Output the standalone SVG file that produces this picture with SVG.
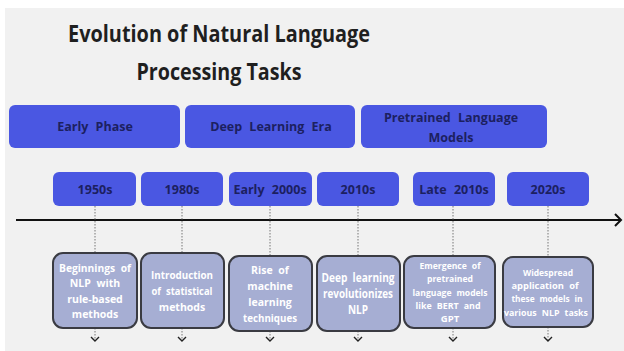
<svg xmlns="http://www.w3.org/2000/svg" width="624" height="351" viewBox="0 0 624 351">
  <defs>
    <style>
      .title { font-family: "Open Sans", "Noto Sans", sans-serif; font-weight: 700; font-size: 24px; fill: #1f1f1f; text-anchor: middle; }
      .phase rect { fill: #4a57e2; }
      .phase text, .year text { font-family: "Open Sans", "Noto Sans", sans-serif; font-weight: 700; font-size: 12.5px; fill: #1c2060; text-anchor: middle; word-spacing: 4px; }
      .year rect { fill: #4a57e2; }
      .desc rect { fill: #a6aed3; stroke: #3a3b42; stroke-width: 2; }
      .desc text { font-family: "Open Sans", "Noto Sans", sans-serif; font-weight: 700; font-size: 10.5px; fill: #ffffff; text-anchor: middle; word-spacing: 3px; }
      .dot { stroke: #777; stroke-width: 1; stroke-dasharray: 1.5 1.5; fill: none; }
      .chev { stroke: #222; stroke-width: 1.4; fill: none; }
      .axis { stroke: #111; stroke-width: 2; fill: none; }
    </style>
  </defs>

  <!-- canvas -->
  <rect x="0" y="0" width="624" height="351" fill="#ffffff"/>
  <rect x="5" y="8" width="619" height="343" fill="#f1f1f1"/>

  <!-- heading -->
  <g id="title">
    <text class="title" x="219" y="42" textLength="302" lengthAdjust="spacingAndGlyphs">Evolution of Natural Language</text>
    <text class="title" x="219" y="80" textLength="165" lengthAdjust="spacingAndGlyphs">Processing Tasks</text>
  </g>

  <!-- era bands -->
  <g id="phase-early" class="phase">
    <rect x="9" y="105" width="171" height="43" rx="6"/>
    <text x="95" y="131">Early Phase</text>
  </g>
  <g id="phase-deep" class="phase">
    <rect x="185" y="105" width="170" height="43" rx="6"/>
    <text x="271" y="131">Deep Learning Era</text>
  </g>
  <g id="phase-pretrained" class="phase">
    <rect x="361" y="105" width="186" height="43" rx="6"/>
    <text x="451" y="122">Pretrained Language</text>
    <text x="451" y="142">Models</text>
  </g>

  <!-- connectors: axis, dotted drops and chevrons -->
  <g id="connectors">
    <path class="axis" d="M16 220 H621"/>
    <path class="axis" d="M615 214 L621 220 L615 226"/>

    <path class="dot" d="M95 206 V253 M95 328 V340"/>
    <path class="dot" d="M182 206 V253 M182 328 V340"/>
    <path class="dot" d="M270 206 V256 M270 331 V340"/>
    <path class="dot" d="M358 206 V256 M358 331 V340"/>
    <path class="dot" d="M453 206 V256 M453 328 V340"/>
    <path class="dot" d="M548 206 V257 M548 327 V340"/>

    <path class="chev" d="M91 337 L95 341 L99 337"/>
    <path class="chev" d="M178 337 L182 341 L186 337"/>
    <path class="chev" d="M266 337 L270 341 L274 337"/>
    <path class="chev" d="M354 337 L358 341 L362 337"/>
    <path class="chev" d="M449 337 L453 341 L457 337"/>
    <path class="chev" d="M544 337 L548 341 L552 337"/>
  </g>

  <!-- year markers -->
  <g id="year-1950s" class="year">
    <rect x="53" y="172" width="83" height="34" rx="6"/>
    <text x="95" y="194">1950s</text>
  </g>
  <g id="year-1980s" class="year">
    <rect x="141" y="172" width="82" height="34" rx="6"/>
    <text x="182" y="194">1980s</text>
  </g>
  <g id="year-early-2000s" class="year">
    <rect x="229" y="172" width="83" height="34" rx="6"/>
    <text x="270" y="194">Early 2000s</text>
  </g>
  <g id="year-2010s" class="year">
    <rect x="317" y="172" width="82" height="34" rx="6"/>
    <text x="358" y="194">2010s</text>
  </g>
  <g id="year-late-2010s" class="year">
    <rect x="413" y="172" width="82" height="34" rx="6"/>
    <text x="454" y="194">Late 2010s</text>
  </g>
  <g id="year-2020s" class="year">
    <rect x="507" y="172" width="82" height="34" rx="6"/>
    <text x="548" y="194">2020s</text>
  </g>

  <!-- milestone descriptions -->
  <g id="desc-1950s" class="desc">
    <rect x="53" y="253" width="84" height="75" rx="10"/>
    <text x="95" y="272" textLength="72" lengthAdjust="spacingAndGlyphs">Beginnings of</text>
    <text x="95" y="287">NLP with</text>
    <text x="95" y="303">rule-based</text>
    <text x="95" y="318">methods</text>
  </g>
  <g id="desc-1980s" class="desc">
    <rect x="141" y="253" width="83" height="75" rx="10"/>
    <text x="182" y="279" textLength="62" lengthAdjust="spacingAndGlyphs">Introduction</text>
    <text x="182" y="295" textLength="61" lengthAdjust="spacingAndGlyphs">of statistical</text>
    <text x="182" y="311">methods</text>
  </g>
  <g id="desc-early-2000s" class="desc">
    <rect x="229" y="256" width="83" height="75" rx="10"/>
    <text x="270" y="274">Rise of</text>
    <text x="270" y="290">machine</text>
    <text x="270" y="306">learning</text>
    <text x="270" y="322" textLength="54" lengthAdjust="spacingAndGlyphs">techniques</text>
  </g>
  <g id="desc-2010s" class="desc">
    <rect x="317" y="256" width="83" height="75" rx="10"/>
    <text x="358" y="282" style="font-size:11.5px" textLength="73" lengthAdjust="spacingAndGlyphs">Deep learning</text>
    <text x="358" y="298" style="font-size:11.5px" textLength="70" lengthAdjust="spacingAndGlyphs">revolutionizes</text>
    <text x="358" y="314" style="font-size:11.5px" textLength="20" lengthAdjust="spacingAndGlyphs">NLP</text>
  </g>
  <g id="desc-late-2010s" class="desc">
    <rect x="404" y="256" width="91" height="72" rx="10"/>
    <text x="450" y="269" style="font-size:9.5px" textLength="61" lengthAdjust="spacingAndGlyphs">Emergence of</text>
    <text x="450" y="282" style="font-size:9.5px" textLength="46" lengthAdjust="spacingAndGlyphs">pretrained</text>
    <text x="450" y="296" style="font-size:9.5px" textLength="75" lengthAdjust="spacingAndGlyphs">language models</text>
    <text x="448" y="309" style="font-size:9.5px" textLength="65" lengthAdjust="spacingAndGlyphs">like BERT and</text>
    <text x="450" y="322" style="font-size:9.5px">GPT</text>
  </g>
  <g id="desc-2020s" class="desc">
    <rect x="503" y="257" width="90" height="70" rx="10"/>
    <text x="548" y="276" style="font-size:9.5px" textLength="50" lengthAdjust="spacingAndGlyphs">Widespread</text>
    <text x="545" y="289" style="font-size:9.5px" textLength="67" lengthAdjust="spacingAndGlyphs">application of</text>
    <text x="547" y="302" style="font-size:9.5px" textLength="71" lengthAdjust="spacingAndGlyphs">these models in</text>
    <text x="546" y="316" style="font-size:9.5px" textLength="84" lengthAdjust="spacingAndGlyphs">various NLP tasks</text>
  </g>
</svg>
